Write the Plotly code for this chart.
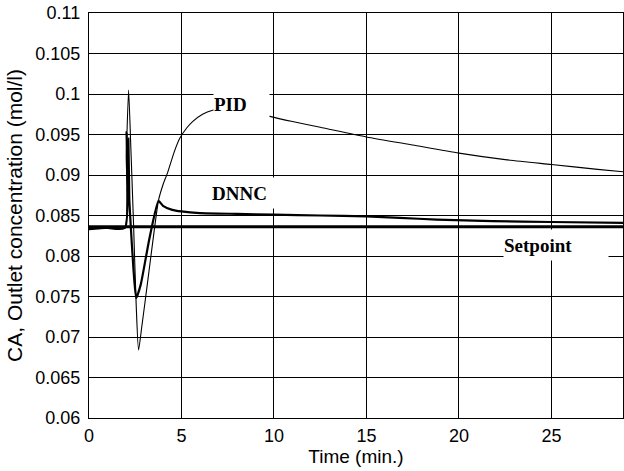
import plotly.graph_objects as go

# ---- data ----
time_pid = [0.0, 1.0, 1.92, 2.02, 2.14, 2.26, 2.40, 2.55, 2.68, 2.85, 3.17, 3.45, 3.76,
            4.00, 4.25, 4.60, 4.90, 5.28, 5.60, 6.14, 6.68, 7.5, 8.5, 9.66,
            11.0, 12.5, 15.0, 17.5, 20.0, 22.5, 25.0, 27.5, 28.9]
ca_pid = [0.0834, 0.0834, 0.0834, 0.0925, 0.1005, 0.0935, 0.0845, 0.0740, 0.0684, 0.0712, 0.0768, 0.0818, 0.0869,
          0.0888, 0.0903, 0.0928, 0.0945, 0.0958, 0.0966, 0.0975, 0.0980, 0.0983, 0.0980, 0.0973,
          0.0966, 0.0959, 0.0947, 0.0937, 0.0927, 0.0919, 0.0913, 0.0907, 0.0904]

time_dnnc = [0.0, 0.5, 1.0, 1.95, 2.03, 2.08, 2.13, 2.18, 2.25, 2.40, 2.55, 2.80, 3.27, 3.76,
             4.0, 4.5, 5.0, 6.0, 8.0, 10.0, 12.5, 15.0, 16.8, 18.8, 21.8, 25.0, 28.9]
ca_dnnc = [0.0833, 0.0834, 0.0835, 0.0835, 0.0953, 0.0880, 0.0945, 0.0870, 0.0840, 0.0785, 0.0748, 0.0765, 0.0822, 0.0868,
           0.0862, 0.0857, 0.0855, 0.0853, 0.0852, 0.0851, 0.0850, 0.0849, 0.0847, 0.0845, 0.0843, 0.0842, 0.0841]

time_sp = [0.0, 28.9]
ca_sp = [0.0836, 0.0836]

x_ticks = [0, 5, 10, 15, 20, 25]
y_ticks = [0.06, 0.065, 0.07, 0.075, 0.08, 0.085, 0.09, 0.095, 0.1, 0.105, 0.11]
y_tick_labels = ["0.06", "0.065", "0.07", "0.075", "0.08", "0.085", "0.09", "0.095", "0.1", "0.105", "0.11"]

fig = go.Figure()
fig.add_trace(go.Scatter(x=time_sp, y=ca_sp, mode="lines", name="Setpoint",
                         line=dict(color="black", width=3)))
fig.add_trace(go.Scatter(x=time_pid, y=ca_pid, mode="lines", name="PID",
                         line=dict(color="black", width=1.1, shape="spline", smoothing=0.6)))
fig.add_trace(go.Scatter(x=time_dnnc, y=ca_dnnc, mode="lines", name="DNNC",
                         line=dict(color="black", width=2.2, shape="spline", smoothing=0.5)))

lab_font = dict(family="Liberation Serif, Times New Roman, serif", size=19, color="black")
fig.add_annotation(x=6.68, y=0.0988, xref="x", yref="y", text="<b>PID</b>", showarrow=False,
                   xanchor="left", yanchor="middle", align="left", width=55, height=28,
                   bgcolor="white", borderpad=0, font=lab_font)
fig.add_annotation(x=6.57, y=0.0878, xref="x", yref="y", text="<b>DNNC</b>", showarrow=False,
                   xanchor="left", yanchor="middle", align="left", width=67, height=30,
                   bgcolor="white", borderpad=0, font=lab_font)
fig.add_annotation(x=22.38, y=0.08136, xref="x", yref="y", text="<b>Setpoint</b>", showarrow=False,
                   xanchor="left", yanchor="middle", align="left", width=104, height=30,
                   bgcolor="white", borderpad=0, font=lab_font)

axis_font = dict(family="Liberation Sans, Arial, sans-serif", size=18, color="black")
xtitle_font = dict(family="Liberation Sans, Arial, sans-serif", size=19, color="black")
ytitle_font = dict(family="Liberation Sans, Arial, sans-serif", size=21, color="black")
fig.update_layout(
    width=624, height=471,
    margin=dict(l=89, r=1, t=13, b=53),
    paper_bgcolor="white", plot_bgcolor="white",
    showlegend=False,
    font=axis_font,
)
fig.update_xaxes(range=[0, 28.87], tickvals=x_ticks, showgrid=True, gridcolor="black", gridwidth=1.2,
                 zeroline=False, showline=True, linecolor="black", linewidth=1.2, mirror=True,
                 ticks="outside", ticklen=1, tickcolor="rgba(0,0,0,0)", tickfont=axis_font,
                 title=dict(text="Time (min.)", font=xtitle_font, standoff=0))
fig.update_yaxes(range=[0.06, 0.11], tickvals=y_ticks, ticktext=y_tick_labels, showgrid=True,
                 gridcolor="black", gridwidth=1.2,
                 zeroline=False, showline=True, linecolor="black", linewidth=1.2, mirror=True,
                 ticks="outside", ticklen=4, tickcolor="rgba(0,0,0,0)", tickfont=axis_font,
                 title=dict(text="CA, Outlet concentration (mol/l)", font=ytitle_font, standoff=6))

fig.write_html("out.html")
